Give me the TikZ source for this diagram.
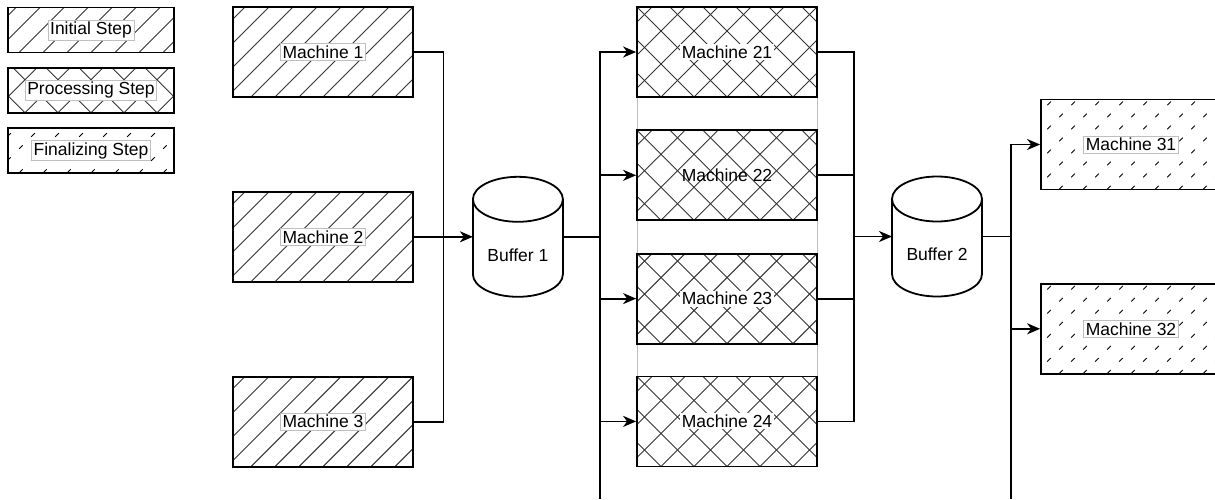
\documentclass[tikz,border=0pt]{standalone}
\usepackage{fontspec}
\setmainfont{Liberation Sans}
\usetikzlibrary{arrows.meta, positioning, calc, fit, backgrounds}

% storage tank drawn over an invisible box node
\newcommand\drawtank[1]{%
  \draw[tankline] ([yshift=-22.5pt]#1.north west) -- ([yshift=22.5pt]#1.south west)
    arc[start angle=180, end angle=360, x radius=45pt, y radius=22.5pt]
    -- ([yshift=-22.5pt]#1.north east)
    arc[start angle=0, end angle=180, x radius=45pt, y radius=22.5pt] -- cycle;
  \draw[tankline] ([yshift=-22.5pt]#1.north west)
    arc[start angle=180, end angle=360, x radius=45pt, y radius=22.5pt];
}

\begin{document}
\begin{tikzpicture}[
    x=1pt, y=1pt,
    every node/.style={font=\fontsize{17.5}{20}\selectfont},
    hatch/.style={draw=black!80, line width=0.9pt},
    machine/.style={rectangle, draw=black, line width=1.8pt, minimum width=180pt, minimum height=90pt, inner sep=0pt},
    initial/.style={machine, path picture={
        \foreach \k in {-10,...,10}
          \draw[hatch] ([xshift=\k*24pt]path picture bounding box.south) ++(-120pt,-120pt) -- ++(240pt,240pt);
      }},
    processing/.style={machine, path picture={
        \foreach \k in {-8,...,8} {
          \draw[hatch] ([xshift=\k*33pt]path picture bounding box.south) ++(-120pt,-120pt) -- ++(240pt,240pt);
          \draw[hatch] ([xshift=\k*33pt]path picture bounding box.south) ++(120pt,-120pt) -- ++(-240pt,240pt);
        }
      }},
    final/.style={machine, path picture={
        \foreach \k in {-10,...,10}
          \draw[black, line width=0.9pt, dash pattern=on 5pt off 12pt] ([xshift=\k*24pt]path picture bounding box.south) ++(-120pt,-120pt) -- ++(240pt,240pt);
      }},
    keybox/.style={minimum width=166pt, minimum height=45pt},
    tag/.style={fill=white, draw=black!25, line width=0.6pt, inner xsep=2pt, inner ysep=2pt},
    blank/.style={fill=white, inner sep=1.5pt},
    buffer/.style={rectangle, minimum width=90pt, minimum height=120pt, inner sep=0pt, outer sep=0pt},
    tankline/.style={draw=black, line width=1.8pt},
    flow/.style={draw=black, line width=1.8pt},
    arrow/.style={flow, -{Stealth[length=13pt, width=11pt, inset=4pt]}}
]
    \useasboundingbox (0,0) rectangle (1215,-499);
    \clip (0,0) rectangle (1215,-499);
    \coordinate (bottom) at (0,-499);

    % Legend
    \node (keyinit) [initial, keybox, label={[tag]center:Initial Step}] at (91,-30) {};
    \node (keyproc) [processing, keybox, below=13.5pt of keyinit, label={[tag]center:Processing Step}] {};
    \node (keyfinal) [final, keybox, below=13.5pt of keyproc, label={[tag]center:Finalizing Step}] {};

    % Stage 1
    \node (m1) [initial, label={[tag]center:Machine 1}] at (323,-52) {};
    \node (m2) [initial, below=93pt of m1, label={[tag]center:Machine 2}] {};
    \node (m3) [initial, below=93pt of m2, label={[tag]center:Machine 3}] {};
    \node (buf1) [buffer, right=59pt of m2, label={[yshift=-18pt]center:Buffer 1}] {};
    \drawtank{buf1}

    % Stage 2
    \node (m21) [processing, label={[blank]center:Machine 21}] at (727,-52) {};
    \node (m22) [processing, below=31.5pt of m21, label={center:Machine 22}] {};
    \node (m23) [processing, below=31.5pt of m22, label={[blank]center:Machine 23}] {};
    \node (m24) [processing, below=31pt of m23, label={[blank]center:Machine 24}] {};
    \begin{scope}[on background layer]
        \node (stage2) [draw=black!25, line width=0.6pt, inner sep=-0.9pt, fit=(m21)(m24)] {};
    \end{scope}
    \node (buf2) [buffer, label={[yshift=-18pt]center:Buffer 2}] at (937,-236.5) {};
    \drawtank{buf2}

    % Stage 3
    \node (m31) [final, label={[tag]center:Machine 31}] at (1131,-144.5) {};
    \node (m32) [final, below=92.5pt of m31, label={[tag]center:Machine 32}] {};

    % Connections
    \coordinate (join1) at ($(m2.east)!0.5!(buf1.west)$);
    \draw[flow] (m1.east) -| (join1);
    \draw[flow] (m3.east) -| (join1);
    \draw[arrow] (m2.east) -- (buf1.west);

    \coordinate (split1) at ($(buf1.east)+(37pt,0)$);
    \draw[flow] (buf1.east) -- (split1);
    \foreach \n in {21,...,24}
        \draw[arrow] (split1) |- (m\n.west);
    \draw[flow] (split1) -- (split1 |- bottom);

    \coordinate (join2) at ($(buf2.west)+(-38pt,0)$);
    \foreach \n in {21,...,24}
        \draw[flow] (m\n.east) -| (join2);
    \draw[arrow] (join2) -- (buf2.west);

    \coordinate (split2) at ($(buf2.east)+(29pt,0)$);
    \draw[flow] (buf2.east) -- (split2);
    \draw[arrow] (split2) |- (m31.west);
    \draw[arrow] (split2) |- (m32.west);
    \draw[flow] (split2) -- (split2 |- bottom);
\end{tikzpicture}
\end{document}
